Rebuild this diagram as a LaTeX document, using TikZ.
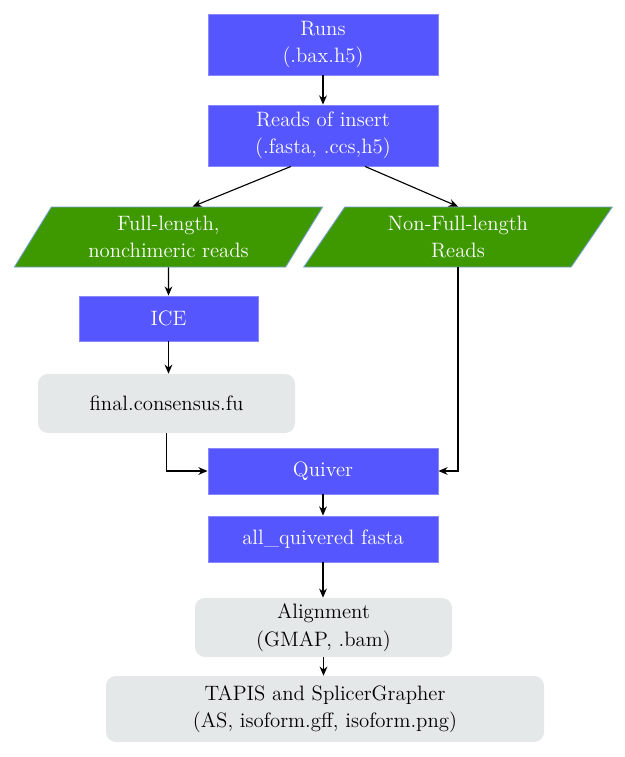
\documentclass[tikz,border=0pt]{standalone}
\usepackage{tikz}
\usetikzlibrary{calc,positioning}
\usetikzlibrary{shapes.geometric}
\usetikzlibrary{arrows.meta}
\usepackage{xcolor}

\definecolor{boxblue}{RGB}{86,86,255}
\definecolor{readgreen}{RGB}{62,152,0}
\definecolor{paleblue}{RGB}{120,160,215}
\definecolor{boxgray}{RGB}{229,232,232}

\begin{document}
\begin{tikzpicture}[x=0.025cm,y=-0.025cm,
	blue/.style = {fill=boxblue, draw=boxblue!70!white, line width=0.6pt, text=white, align=center, font=\fontsize{14.8}{19.5}\selectfont, inner sep=0pt},
	para/.style = {trapezium, trapezium left angle=59, trapezium right angle=121, trapezium stretches=true, fill=readgreen, draw=paleblue, line width=0.6pt, text=white, align=center, font=\fontsize{14.8}{19.5}\selectfont, inner sep=0pt},
	gray/.style = {fill=boxgray, rounded corners=7pt, align=center, font=\fontsize{14.8}{19.5}\selectfont, inner sep=0pt},
	arr/.style = {-{Stealth[length=6.5pt,width=5.5pt]}, line width=0.8pt}]
		\useasboundingbox (0,0) rectangle (625,757);
		\node[blue, minimum width=230*0.025cm, minimum height=61*0.025cm] (runs) at (323,44.5) {Runs\\(.bax.h5)};
		\node[blue, minimum width=230*0.025cm, minimum height=61*0.025cm] (reads) at (323,135.5) {Reads of insert\\(.fasta, .ccs,h5)};
		\node[para, minimum width=309*0.025cm, minimum height=60*0.025cm] (full) at (168.5,237) {Full-length,\\nonchimeric reads};
		\node[para, minimum width=309*0.025cm, minimum height=60*0.025cm] (nonfull) at (458,237) {Non-Full-length\\Reads};
		\node[blue, minimum width=179*0.025cm, minimum height=45*0.025cm] (ice) at (168.5,318.5) {ICE};
		\node[gray, minimum width=257*0.025cm, minimum height=59*0.025cm] (final) at (166.5,403.5) {final.consensus.fu};
		\node[blue, minimum width=230*0.025cm, minimum height=46*0.025cm] (quiver) at (323,471) {Quiver};
		\node[blue, minimum width=230*0.025cm, minimum height=46*0.025cm] (allq) at (323,539) {all\_quivered fasta};
		\node[gray, minimum width=257*0.025cm, minimum height=59*0.025cm] (align) at (323.5,627.5) {Alignment\\(GMAP, .bam)};
		\node[gray, minimum width=438*0.025cm, minimum height=66*0.025cm] (tapis) at (325,709) {TAPIS and SplicerGrapher\\(AS, isoform.gff, isoform.png)};
		\draw[arr] (runs) -- (reads);
		\draw[arr] ([xshift=-0.8cm]reads.south) -- ([xshift=0.6cm]full.north);
		\draw[arr] ([xshift=1.05cm]reads.south) -- (nonfull.north);
		\draw[arr] (full) -- (ice);
		\draw[arr] (ice.south) -- (ice.south |- final.north);
		\draw[arr] (final.south) |- (quiver.west);
		\draw[arr] (nonfull.south) |- (quiver.east);
		\draw[arr] (quiver) -- (allq);
		\draw[arr] (allq.south) -- (allq.south |- align.north);
		\draw[arr] (align.south) -- (align.south |- tapis.north);
	\end{tikzpicture}
\end{document}
